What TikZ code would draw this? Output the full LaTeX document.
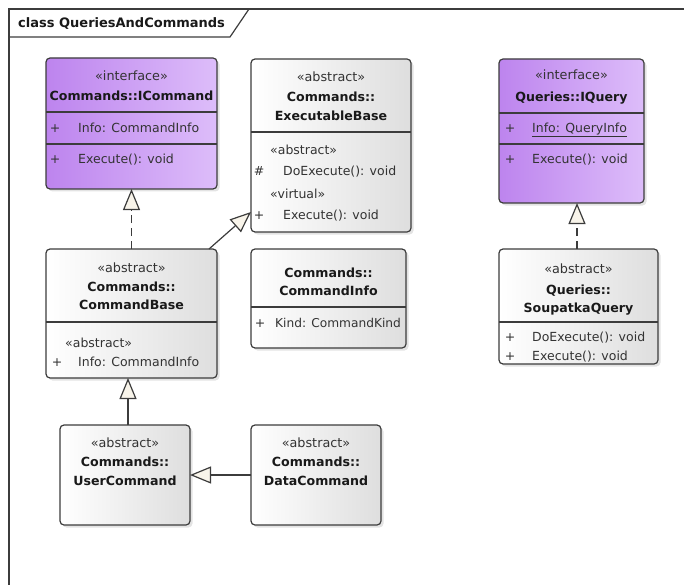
\documentclass[tikz,border=0pt]{standalone}
\usepackage{fontspec}
\setmainfont{DejaVu Sans}
\usetikzlibrary{arrows.meta,shadows,calc}
\definecolor{ifL}{HTML}{BD84EE}
\definecolor{ifR}{HTML}{DDBDFA}
\definecolor{abR}{HTML}{DEDEDE}
\definecolor{edge}{HTML}{3C3C3C}
\definecolor{tri}{HTML}{F8F4EA}
\definecolor{txt}{HTML}{333333}
\begin{document}
\begin{tikzpicture}[x=1pt,y=-1pt,
  box/.style={draw=edge, line width=1.2pt, rounded corners=4pt, anchor=north west, inner sep=0pt, outer sep=0pt,
    drop shadow={shadow xshift=2.5pt, shadow yshift=-2.5pt, opacity=0.22}},
  iface/.style={box, left color=ifL, right color=ifR},
  absc/.style={box, left color=white, right color=abR},
  hd/.style={font=\fontsize{12.8}{15}\selectfont, text=txt, inner sep=0pt, anchor=base, yshift=-4.7pt},
  nm/.style={font=\bfseries\fontsize{12.6}{15}\selectfont, text=black!90, inner sep=0pt, anchor=base, yshift=-4.7pt},
  ent/.style={font=\fontsize{12.5}{15}\selectfont, text=txt, inner sep=0pt, anchor=base west, yshift=-4.7pt},
  vis/.style={font=\fontsize{12.5}{15}\selectfont, text=txt, inner sep=0pt, anchor=base, yshift=-4.7pt},
  div/.style={draw=edge, line width=1.1pt},
  frm/.style={draw=edge, line width=1.2pt},
  gen/.style={draw=edge, line width=1.2pt, -{Triangle[length=21pt, width=17pt, fill=tri]}},
  real/.style={gen, dash pattern=on 8pt off 5pt},
]
\useasboundingbox (0,0) rectangle (684,585);
% frame
\draw[frm] (9,585) -- (9,9) -- (684,9);
\draw[frm] (9,37) -- (230,37) -- (249,9);
\node[font=\bfseries\fontsize{13}{15}\selectfont, text=black!90, inner sep=0pt, anchor=base west] (title) at (18,28) {class QueriesAndCommands};

% boxes
\node[iface, minimum width=171pt, minimum height=131pt] (ic) at (46,58) {};
\node[absc, minimum width=160pt, minimum height=173pt] (eb) at (251,59) {};
\node[iface, minimum width=145pt, minimum height=144pt] (iq) at (499,59) {};
\node[absc, minimum width=159pt, minimum height=115pt] (sq) at (499,249) {};
\node[absc, minimum width=171pt, minimum height=129pt] (cb) at (46,249) {};
\node[absc, minimum width=155pt, minimum height=99pt] (ci) at (251,249) {};
\node[absc, minimum width=130pt, minimum height=100pt] (uc) at (60,425) {};
\node[absc, minimum width=130pt, minimum height=100pt] (dc) at (251,425) {};

% ICommand
\node[hd] (ic1) at (131.5,76) {«interface»};
\node[nm] (ic2) at (131.5,96) {Commands::ICommand};
\draw[div] ($(ic.north west)+(0,54)$) -- ($(ic.north east)+(0,54)$);
\node[vis] (ic3) at (55,128) {+};
\node[ent] (ic4) at (78,128) {Info: CommandInfo};
\draw[div] ($(ic.north west)+(0,86)$) -- ($(ic.north east)+(0,86)$);
\node[vis] (ic5) at (55,159) {+};
\node[ent] (ic6) at (78,159) {Execute(): void};

% ExecutableBase
\node[hd] (eb1) at (331,77) {«abstract»};
\node[nm] (eb2) at (331,97) {Commands::};
\node[nm] (eb3) at (331,116) {ExecutableBase};
\draw[div] ($(eb.north west)+(0,73)$) -- ($(eb.north east)+(0,73)$);
\node[ent] (eb4) at (270,150) {«abstract»};
\node[vis] (eb5) at (259,171) {\#};
\node[ent] (eb6) at (283,171) {DoExecute(): void};
\node[ent] (eb7) at (270,194) {«virtual»};
\node[vis] (eb8) at (259,215) {+};
\node[ent] (eb9) at (283,215) {Execute(): void};

% IQuery
\node[hd] (iq1) at (571.5,75) {«interface»};
\node[nm] (iq2) at (571.5,97) {Queries::IQuery};
\draw[div] ($(iq.north west)+(0,54)$) -- ($(iq.north east)+(0,54)$);
\node[vis] (iq3) at (510,128) {+};
\node[ent] (iq4) at (532,128) {\underline{Info: QueryInfo}};
\draw[div] ($(iq.north west)+(0,85)$) -- ($(iq.north east)+(0,85)$);
\node[vis] (iq5) at (510,159) {+};
\node[ent] (iq6) at (532,159) {Execute(): void};

% SoupatkaQuery
\node[hd] (sq1) at (578.5,269) {«abstract»};
\node[nm] (sq2) at (578.5,290) {Queries::};
\node[nm] (sq3) at (578.5,308) {SoupatkaQuery};
\draw[div] ($(sq.north west)+(0,73)$) -- ($(sq.north east)+(0,73)$);
\node[vis] (sq4) at (510,337) {+};
\node[ent] (sq5) at (532,337) {DoExecute(): void};
\node[vis] (sq6) at (510,356) {+};
\node[ent] (sq7) at (532,356) {Execute(): void};

% CommandBase
\node[hd] (cb1) at (131.5,268) {«abstract»};
\node[nm] (cb2) at (131.5,287) {Commands::};
\node[nm] (cb3) at (131.5,305) {CommandBase};
\draw[div] ($(cb.north west)+(0,73)$) -- ($(cb.north east)+(0,73)$);
\node[ent] (cb4) at (65,343) {«abstract»};
\node[vis] (cb5) at (57,362) {+};
\node[ent] (cb6) at (78,362) {Info: CommandInfo};

% CommandInfo
\node[nm] (ci1) at (328.5,273) {Commands::};
\node[nm] (ci2) at (328.5,291) {CommandInfo};
\draw[div] ($(ci.north west)+(0,58)$) -- ($(ci.north east)+(0,58)$);
\node[vis] (ci3) at (260,323) {+};
\node[ent, font=\fontsize{12.2}{15}\selectfont] (ci4) at (275,323) {Kind: CommandKind};

% UserCommand
\node[hd] (uc1) at (125,443) {«abstract»};
\node[nm] (uc2) at (125,462) {Commands::};
\node[nm] (uc3) at (125,481) {UserCommand};

% DataCommand
\node[hd] (dc1) at (316,443) {«abstract»};
\node[nm] (dc2) at (316,462) {Commands::};
\node[nm] (dc3) at (316,481) {DataCommand};

% connectors
\draw[real] (cb.north) -- (ic.south);
\draw[gen] ($(cb.north east)+(-8,0)$) -- ($(eb.south west)+(0,-20)$);
\draw[gen] ($(uc.north)+(3,0)$) -- ($(cb.south)+(-3.5,0)$);
\draw[gen] (dc.west) -- (uc.east);
\draw[real] ($(sq.north)+(-1.5,0)$) -- ($(iq.south)+(5.5,0)$);
\end{tikzpicture}
\end{document}
